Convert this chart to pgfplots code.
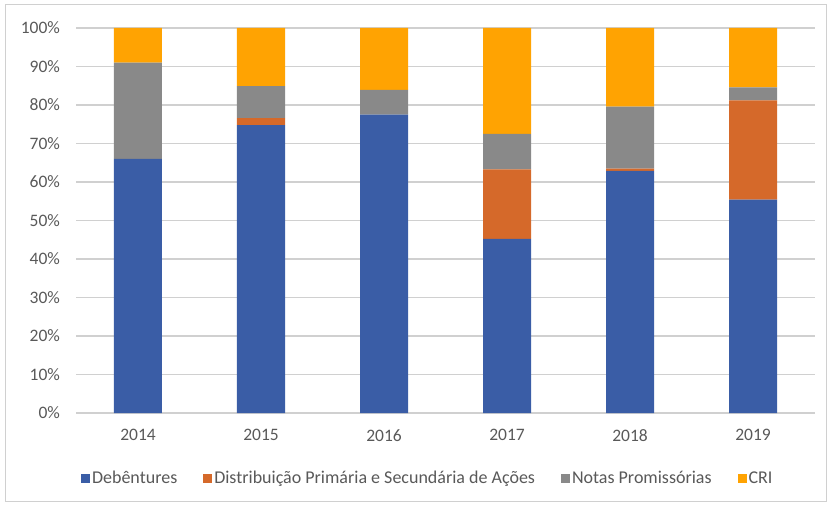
\documentclass[border=0pt]{standalone}
\usepackage{pgfplots}
\pgfplotsset{compat=1.18}
\usepackage{fontspec}
\setmainfont{Carlito}
\definecolor{cDeb}{HTML}{3A5DA6}
\definecolor{cDis}{HTML}{D5692A}
\definecolor{cNot}{HTML}{898989}
\definecolor{cCRI}{HTML}{FFA302}
\definecolor{txt}{HTML}{595959}
\definecolor{gridc}{HTML}{D0D0D0}
\begin{document}
\begin{tikzpicture}
\begin{axis}[
  at={(0,0)}, anchor=south west,
  scale only axis, width=738bp, height=385bp,
  ybar stacked, bar width=48bp,
  xmin=-0.5, xmax=5.5, ymin=0, ymax=100,
  xtick={0,1,2,3,4,5}, xticklabels={2014,2015,2016,2017,2018,2019},
  ytick={0,10,...,100},
  yticklabel={\pgfmathprintnumber{\tick}\%},
  /pgf/number format/assume math mode=true,
  axis line style={draw=none},
  major tick style={draw=none},
  ymajorgrids, major grid style={color=gridc, line width=1.3pt},
  tick label style={font=\fontsize{17.5bp}{20bp}\selectfont, text=txt},
  yticklabel style={xshift=-13bp},
  xticklabel style={yshift=-13bp},
  legend columns=4,
  legend style={draw=none, at={(0.476,-0.169)}, anchor=center,
    font=\fontsize{18bp}{20bp}\selectfont, text=txt,
    /tikz/every even column/.append style={column sep=24bp}},
  legend image code/.code={\fill[#1] (0bp,-4.5bp) rectangle (9bp,4.5bp);},
]
\addplot[fill=cDeb, draw=none] coordinates {(0,66) (1,74.8) (2,77.5) (3,45.2) (4,62.9) (5,55.4)};
\addplot[fill=cDis, draw=none] coordinates {(0,0) (1,1.8) (2,0) (3,18.1) (4,0.6) (5,25.8)};
\addplot[fill=cNot, draw=none] coordinates {(0,25) (1,8.3) (2,6.4) (3,9.2) (4,16.1) (5,3.4)};
\addplot[fill=cCRI, draw=none] coordinates {(0,9) (1,15.1) (2,16.1) (3,27.5) (4,20.4) (5,15.4)};
\legend{Debêntures, Distribuição Primária e Secundária de Ações, Notas Promissórias, CRI}
\end{axis}
\draw[gridc, line width=1pt] (-71.5bp,-88bp) rectangle (749.5bp,408bp);
\path (-76.5bp,-93bp) rectangle (754.5bp,413bp);
\end{tikzpicture}
\end{document}
